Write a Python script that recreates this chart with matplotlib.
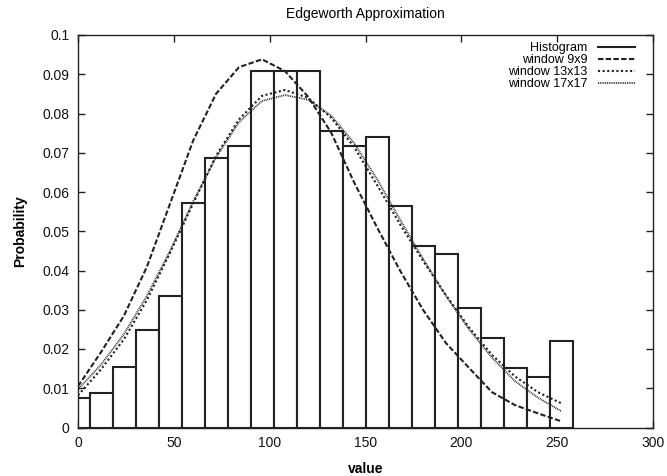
import numpy as np
import matplotlib
matplotlib.use('Agg')
import matplotlib.pyplot as plt
from matplotlib.ticker import FuncFormatter

plt.rcParams['font.family'] = ['Liberation Sans', 'DejaVu Sans']

# histogram bins (centres, width 12)
centros = np.arange(0, 253, 12)
alturas = [0.0076, 0.0087, 0.0154, 0.0249, 0.0335, 0.0573, 0.0686, 0.0717,
           0.0909, 0.0909, 0.0909, 0.0756, 0.0717, 0.0741, 0.0564, 0.0463,
           0.0441, 0.0305, 0.0227, 0.0152, 0.0129, 0.0220]

# Edgeworth approximations sampled at the bin centres
ventana_9 = [0.0105, 0.0192, 0.0285, 0.0410, 0.0570, 0.0730, 0.0850, 0.0918,
             0.0938, 0.0908, 0.0843, 0.0752, 0.0625, 0.0510, 0.0400, 0.0300,
             0.0215, 0.0152, 0.0090, 0.0057, 0.0036, 0.0016]
ventana_13 = [0.0082, 0.0148, 0.0225, 0.0325, 0.0445, 0.0570, 0.0692, 0.0785,
              0.0845, 0.0860, 0.0840, 0.0790, 0.0715, 0.0618, 0.0518, 0.0425,
              0.0337, 0.0255, 0.0185, 0.0130, 0.0090, 0.0062]
ventana_17 = [0.0097, 0.0160, 0.0238, 0.0336, 0.0450, 0.0575, 0.0688, 0.0778,
              0.0832, 0.0847, 0.0835, 0.0795, 0.0725, 0.0633, 0.0530, 0.0430,
              0.0335, 0.0250, 0.0178, 0.0118, 0.0076, 0.0042]

color = '#222222'

fig = plt.figure(figsize=(6.67, 4.76), dpi=100)
ax = fig.add_axes([78 / 667, 1 - 427.5 / 476, 575 / 667, 392.5 / 476])

ax.bar(centros, alturas, width=12, facecolor='white', edgecolor=color,
       linewidth=1.5, label='Histogram', zorder=2)
linea_hist = plt.Line2D([], [], color=color, lw=1.5)

l9, = ax.plot(centros, ventana_9, color=color, lw=1.5, ls=(0, (2.6, 1.1)),
              label='window 9x9', zorder=3)
l13, = ax.plot(centros, ventana_13, color=color, lw=1.5, ls=(0, (1.0, 1.2)),
               label='window 13x13', zorder=3)
l17, = ax.plot(centros, ventana_17, color=color, lw=1.3, ls=(0, (0.5, 0.5)),
               label='window 17x17', zorder=3)

ax.set_xlim(0, 300)
ax.set_ylim(0, 0.1)
ax.set_xticks(np.arange(0, 301, 50))
ax.set_yticks(np.arange(0, 0.1001, 0.01))
ax.yaxis.set_major_formatter(FuncFormatter(lambda v, p: '%g' % round(v, 3)))
ax.tick_params(direction='in', top=True, right=True, length=5, width=1,
               labelsize=10, color=color, labelcolor='#111111', pad=6)
for s in ax.spines.values():
    s.set_linewidth(1.0)
    s.set_color(color)

ax.set_title('Edgeworth Approximation', fontsize=10, pad=12)
ax.set_xlabel('value', fontsize=10, fontweight='bold', labelpad=9)
ax.set_ylabel('Probability', fontsize=10, fontweight='bold', labelpad=11)

ax.legend([linea_hist, l9, l13, l17],
          ['Histogram', 'window 9x9', 'window 13x13', 'window 17x17'],
          loc='upper right', bbox_to_anchor=(0.9687, 0.981),
          frameon=False, markerfirst=False, fontsize=9,
          handlelength=3.0, handletextpad=0.8, labelspacing=0.0,
          borderaxespad=0, borderpad=0)

fig.savefig('out.png', dpi=100)
